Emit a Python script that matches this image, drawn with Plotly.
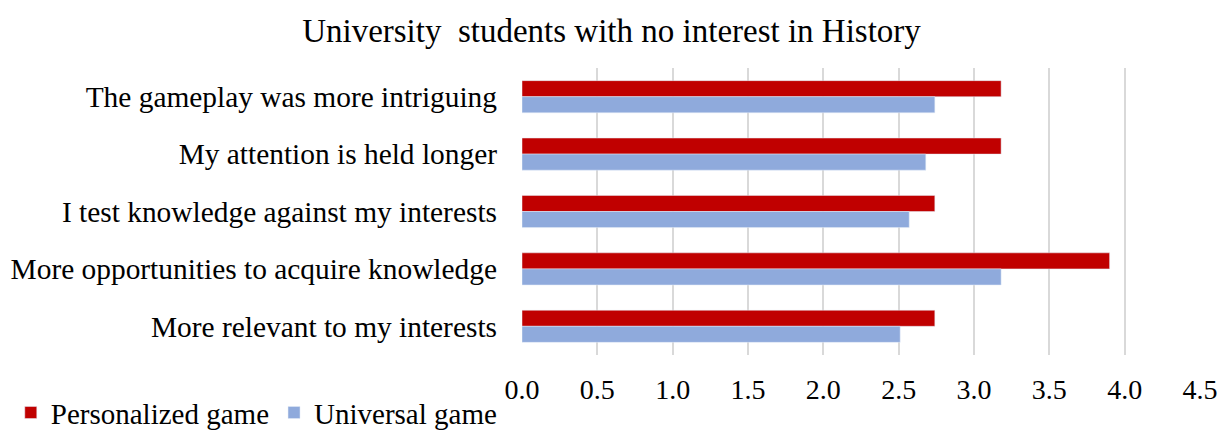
import plotly.graph_objects as go

categories = [
    "The gameplay was more intriguing",
    "My attention is held longer",
    "I test knowledge against my interests",
    "More opportunities to acquire knowledge",
    "More relevant to my interests",
]
personalized = [3.18, 3.18, 2.74, 3.90, 2.74]
universal = [2.74, 2.68, 2.57, 3.18, 2.51]
tick_vals = [0, 0.5, 1.0, 1.5, 2.0, 2.5, 3.0, 3.5, 4.0, 4.5]
tick_text = ["0.0", "0.5", "1.0", "1.5", "2.0", "2.5", "3.0", "3.5", "4.0", "4.5"]

FONT = "Liberation Serif"

fig = go.Figure()
fig.add_trace(go.Bar(y=categories, x=personalized, orientation="h",
                     name="Personalized game", marker_color="#C00000"))
fig.add_trace(go.Bar(y=categories, x=universal, orientation="h",
                     name="Universal game", marker_color="#8FAADC"))

fig.update_layout(
    width=1223, height=430,
    margin=dict(l=522, r=23, t=68, b=75, autoexpand=False),
    paper_bgcolor="white", plot_bgcolor="white",
    font=dict(family=FONT, size=28, color="black"),
    title=dict(text="University\u00a0 students with no interest in History",
               x=0.5, xref="container", xanchor="center",
               y=0.930, yref="container", yanchor="middle",
               font=dict(family=FONT, size=33, color="black")),
    barmode="group", bargap=0.44, bargroupgap=0,
    showlegend=True,
    legend=dict(orientation="h", x=-0.754, xref="paper", xanchor="left",
                y=-0.112, yref="paper", yanchor="top",
                font=dict(family=FONT, size=29), itemwidth=30,
                traceorder="normal", tracegroupgap=0,
                bgcolor="rgba(0,0,0,0)"),
    xaxis=dict(range=[0, 4.5], tickvals=tick_vals, ticktext=tick_text,
               showgrid=True, gridcolor="#D9D9D9", gridwidth=2,
               zeroline=False, showline=False, ticks="",
               ticklabelstandoff=15, fixedrange=True,
               tickfont=dict(family=FONT, size=28)),
    yaxis=dict(autorange="reversed", showgrid=False, zeroline=False,
               showline=False, ticks="", ticklabelstandoff=24,
               tickfont=dict(family=FONT, size=29.4)),
)

fig.write_html("out.html")
